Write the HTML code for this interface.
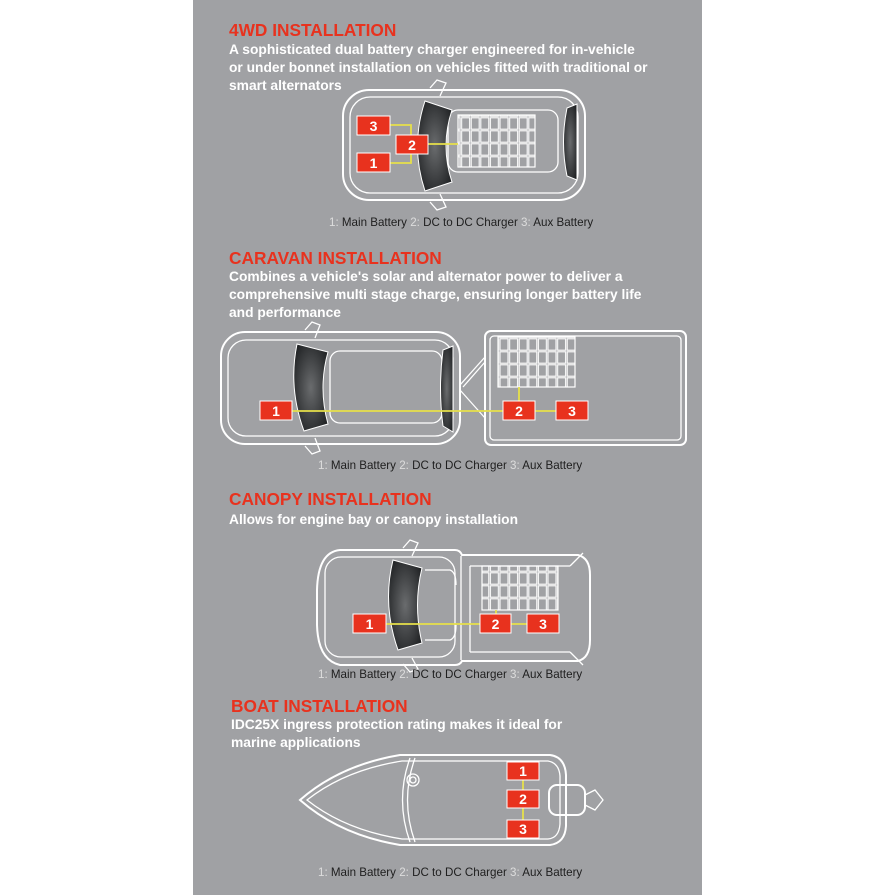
<!DOCTYPE html>
<html><head><meta charset="utf-8"><style>
html,body{margin:0;padding:0;background:#fff;width:895px;height:895px;overflow:hidden}
svg{display:block}
.t{font-family:"Liberation Sans",sans-serif;font-weight:bold;fill:#e8321e;font-size:17.3px}
.b{font-family:"Liberation Sans",sans-serif;font-weight:bold;fill:#fff;font-size:13.8px}
.l{font-family:"Liberation Sans",sans-serif;font-size:11.6px;fill:#1e1e1e}
.n{fill:#ddd}
.o{fill:none;stroke:#fff;stroke-width:2}
.o1{fill:none;stroke:#fff;stroke-width:1.3}
.bx{fill:#e8321e;stroke:#fff;stroke-width:1}
.bt{font-family:"Liberation Sans",sans-serif;font-weight:bold;fill:#fff;font-size:14px;text-anchor:middle}
.w{stroke:#e6e04a;stroke-width:1.8;fill:none}
</style></head><body>
<svg width="895" height="895" viewBox="0 0 895 895" xmlns="http://www.w3.org/2000/svg">
<defs>
<radialGradient id="gl" cx="0.5" cy="0.5" r="0.6"><stop offset="0" stop-color="#6a6c6e"/><stop offset="1" stop-color="#222426"/></radialGradient>
<pattern id="grid" width="9.6" height="13" patternUnits="userSpaceOnUse"><rect x="0.8" y="0.8" width="8" height="11.4" fill="none" stroke="#fff" stroke-width="1.1"/></pattern>
</defs>
<rect x="193" y="0" width="509" height="895" fill="#a0a1a4"/>

<!-- 4WD -->
<text class="t" x="229" y="36">4WD INSTALLATION</text>
<text class="b" x="229" y="54">A sophisticated dual battery charger engineered for in-vehicle</text>
<text class="b" x="229" y="72">or under bonnet installation on vehicles fitted with traditional or</text>
<text class="b" x="229" y="90">smart alternators</text>
<rect class="o" x="343" y="90" width="242" height="110" rx="26"/>
<rect class="o1" x="350" y="97" width="228" height="96" rx="20"/>
<rect class="o1" x="448" y="110" width="110" height="62" rx="10"/>
<path d="M425,101 L452,110 Q440,146 452,182 L425,191 Q410,146 425,101Z" fill="url(#gl)" stroke="#fff" stroke-width="1"/>
<path d="M567,108 L577,104 L577,180 L567,176 Q560,142 567,108Z" fill="url(#gl)" stroke="#fff" stroke-width="1"/>
<rect x="458" y="115" width="77" height="52" fill="url(#grid)" stroke="#fff" stroke-width="1.2"/>
<path class="o1" d="M430,88 L437,80 L446,83 L440,96 M430,202 L437,210 L446,207 L440,194"/>
<path class="w" d="M390,125 H411 V135 M390,163 H411 V154 M428,144 H458"/>
<rect class="bx" x="357" y="116" width="33" height="19"/><text class="bt" x="373.5" y="131">3</text>
<rect class="bx" x="396" y="135" width="32" height="19"/><text class="bt" x="412" y="150">2</text>
<rect class="bx" x="357" y="153" width="33" height="19"/><text class="bt" x="373.5" y="168">1</text>
<text class="l" x="329" y="226"><tspan class="n">1: </tspan>Main Battery <tspan class="n">2: </tspan>DC to DC Charger <tspan class="n">3: </tspan>Aux Battery</text>

<!-- Caravan -->
<text class="t" x="229" y="264">CARAVAN INSTALLATION</text>
<text class="b" x="229" y="281">Combines a vehicle's solar and alternator power to deliver a</text>
<text class="b" x="229" y="299">comprehensive multi stage charge, ensuring longer battery life</text>
<text class="b" x="229" y="317">and performance</text>
<rect class="o" x="221" y="332" width="239" height="112" rx="24"/>
<rect class="o1" x="228" y="340" width="225" height="96" rx="18"/>
<rect class="o1" x="330" y="351" width="112" height="72" rx="10"/>
<path d="M297,344 L328,352 Q318,388 328,424 L304,431 Q288,388 297,344Z" fill="url(#gl)" stroke="#fff" stroke-width="1"/>
<path d="M443,350 L453,346 L453,432 L443,426 Q438,388 443,350Z" fill="url(#gl)" stroke="#fff" stroke-width="1"/>
<path class="o1" d="M305,330 L312,322 L320,325 L315,338 M305,446 L312,454 L320,451 L315,438"/>
<path class="o1" d="M460,385 L485,357 M460,390 L485,418 M463,387 L485,362"/>
<rect class="o" x="485" y="331" width="201" height="114" rx="6"/>
<rect class="o1" x="490" y="336" width="191" height="104" rx="4"/>
<rect x="498" y="337" width="77" height="50" fill="url(#grid)" stroke="#fff" stroke-width="1.2"/>
<path class="w" d="M292,411 H503 M519,387 V401 M535,411 H556"/>
<rect class="bx" x="260" y="401" width="32" height="19"/><text class="bt" x="276" y="416">1</text>
<rect class="bx" x="503" y="401" width="32" height="19"/><text class="bt" x="519" y="416">2</text>
<rect class="bx" x="556" y="401" width="32" height="19"/><text class="bt" x="572" y="416">3</text>
<text class="l" x="318" y="469"><tspan class="n">1: </tspan>Main Battery <tspan class="n">2: </tspan>DC to DC Charger <tspan class="n">3: </tspan>Aux Battery</text>

<!-- Canopy -->
<text class="t" x="229" y="505">CANOPY INSTALLATION</text>
<text class="b" x="229" y="524">Allows for engine bay or canopy installation</text>
<path class="o" d="M340,550 H455 Q460,550 462,555 H578 Q590,558 590,575 V640 Q590,658 578,661 H462 Q460,665 455,665 H340 Q318,660 317,625 V590 Q318,552 340,550Z"/>
<rect class="o1" x="325" y="557" width="130" height="100" rx="16"/>
<path class="o1" d="M461,556 V660 M470,566 V652 M470,566 H570 M470,652 H570 M570,566 L583,553 M570,652 L583,665"/>
<path class="o1" d="M425,570 H450 Q456,572 456,585 M425,640 H450 Q456,638 456,625"/>
<path d="M393,560 L422,568 Q413,605 422,643 L398,650 Q382,605 393,560Z" fill="url(#gl)" stroke="#fff" stroke-width="1"/>
<path class="o1" d="M403,548 L410,540 L418,543 L412,556 M403,664 L410,672 L418,669 L412,658"/>
<rect x="482" y="566" width="76" height="44" fill="url(#grid)" stroke="#fff" stroke-width="1.2"/>
<path class="w" d="M386,624 H480 M496,610 V614 M511,624 H527"/>
<rect class="bx" x="353" y="614" width="33" height="19"/><text class="bt" x="369.5" y="629">1</text>
<rect class="bx" x="480" y="614" width="31" height="19"/><text class="bt" x="495.5" y="629">2</text>
<rect class="bx" x="527" y="614" width="32" height="19"/><text class="bt" x="543" y="629">3</text>
<text class="l" x="318" y="678"><tspan class="n">1: </tspan>Main Battery <tspan class="n">2: </tspan>DC to DC Charger <tspan class="n">3: </tspan>Aux Battery</text>

<!-- Boat -->
<text class="t" x="231" y="712">BOAT INSTALLATION</text>
<text class="b" x="231" y="729">IDC25X ingress protection rating makes it ideal for</text>
<text class="b" x="231" y="747">marine applications</text>
<path class="o" d="M300,800 Q340,765 400,755 H550 Q565,757 566,775 V826 Q565,843 550,845 H400 Q340,835 300,800Z"/>
<path class="o1" d="M307,800 Q345,770 402,761 H548 Q559,763 560,776 V824 Q559,838 548,839 H402 Q345,830 307,800Z"/>
<path class="o1" d="M410,758 Q395,800 410,842 M415,758 Q400,800 415,842"/>
<circle class="o1" cx="413" cy="780" r="6"/><circle class="o1" cx="413" cy="780" r="3"/>
<rect class="o" x="549" y="785" width="36" height="30" rx="8"/>
<path class="o1" d="M585,795 L595,790 L603,800 L595,810 L585,805"/>
<path class="w" d="M523,780 V790 M523,808 V820"/>
<rect class="bx" x="507" y="762" width="32" height="18"/><text class="bt" x="523" y="776">1</text>
<rect class="bx" x="507" y="790" width="32" height="18"/><text class="bt" x="523" y="804">2</text>
<rect class="bx" x="507" y="820" width="32" height="18"/><text class="bt" x="523" y="834">3</text>
<text class="l" x="318" y="876"><tspan class="n">1: </tspan>Main Battery <tspan class="n">2: </tspan>DC to DC Charger <tspan class="n">3: </tspan>Aux Battery</text>
</svg>
</body></html>
